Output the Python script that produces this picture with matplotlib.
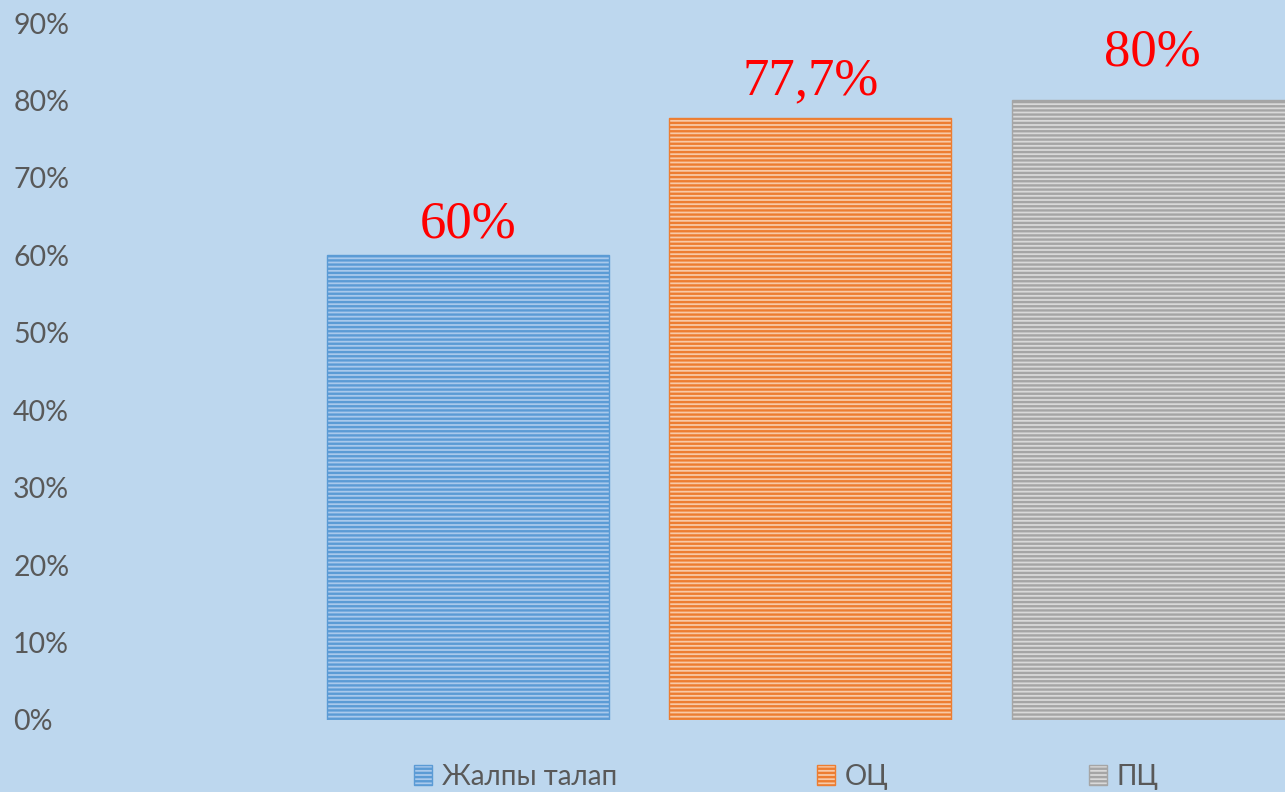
import matplotlib
matplotlib.use("Agg")
import matplotlib.pyplot as plt
from matplotlib.ticker import PercentFormatter

series = ["Жалпы талап", "ОЦ", "ПЦ"]
values = [60, 77.7, 80]
value_labels = ["60%", "77,7%", "80%"]
yticks = [0, 10, 20, 30, 40, 50, 60, 70, 80, 90]

bg = "#bdd7ee"
stripe = ["#5b9bd5", "#ed7d31", "#a5a5a5"]
fill = ["#a9c9ec", "#f8c9a6", "#d9d9d9"]
label_offsets = [5, 9.5, 17.5]  # points above bar top

plt.rcParams["font.family"] = ["Lato", "DejaVu Sans"]
plt.rcParams["hatch.linewidth"] = 1.7

fig = plt.figure(figsize=(12.85, 7.92), dpi=100, facecolor=bg)
ax = fig.add_axes([0, 72 / 792, 1, 697 / 792], facecolor=bg)

for i, (name, v) in enumerate(zip(series, values)):
    ax.bar(i, v, width=0.823, color=fill[i], edgecolor=stripe[i],
           hatch="----", linewidth=1.0, label=name)
    ax.annotate(value_labels[i], (i, v), xytext=(0, label_offsets[i]),
                textcoords="offset points", ha="center", va="bottom",
                color="red", fontsize=38,
                family=["Liberation Serif", "DejaVu Serif"])

ax.set_xlim(-1.366, 2.386)
ax.set_ylim(0, 90)
ax.set_yticks(yticks)
ax.yaxis.set_major_formatter(PercentFormatter(decimals=0))
ax.tick_params(axis="y", length=0, pad=-9.5, labelsize=20.5, labelcolor="#595959")
for lab in ax.get_yticklabels():
    lab.set_horizontalalignment("left")
ax.set_xticks([])
for s in ax.spines.values():
    s.set_visible(False)

fig.legend(loc="center", bbox_to_anchor=(0.612, 0.019), ncol=3, frameon=False,
           fontsize=20, labelcolor="#595959", columnspacing=7.2,
           handlelength=0.65, handleheight=0.75, handletextpad=0.35)

fig.savefig("out.png", dpi=100, facecolor=bg)
